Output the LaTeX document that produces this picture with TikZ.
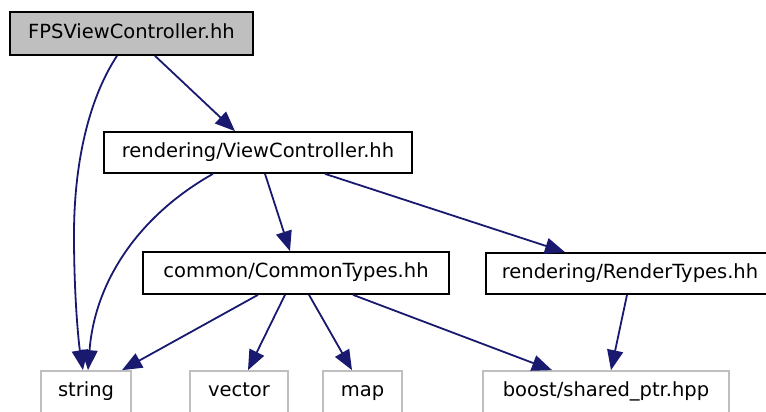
\documentclass[tikz,border=0pt]{standalone}
\usepackage{fontspec}
\setmainfont{DejaVu Sans}
\usetikzlibrary{arrows.meta}
\definecolor{edgeblue}{HTML}{191970}
\definecolor{boxgray}{HTML}{BFBFBF}
\begin{document}
\begin{tikzpicture}[x=1pt,y=-1pt,
  every node/.style={font=\fontsize{19.5}{23}\selectfont, inner sep=0pt, anchor=center, text height=14.6pt, text depth=5pt},
  filebox/.style={draw=black, line width=1.7pt, fill=white},
  mainbox/.style={draw=black, line width=1.7pt, fill=boxgray},
  sysbox/.style={draw=boxgray, line width=1.7pt, fill=white},
  dep/.style={draw=edgeblue, line width=1.8pt, -{Triangle[length=20pt,width=16pt]}}]
\useasboundingbox (0,0) rectangle (766,412);
\begin{scope}
\clip (0,0) rectangle (766,412);
\node[mainbox, minimum width=243pt, minimum height=43pt] (fps) at (131.5,33.5) {FPSViewController.hh};
\node[filebox, minimum width=308pt, minimum height=41pt] (vc) at (258,152.5) {rendering/ViewController.hh};
\node[filebox, minimum width=306pt, minimum height=42pt] (ct) at (296,273) {common/CommonTypes.hh};
\node[filebox, minimum width=288pt, minimum height=41pt] (rt) at (630,273.5) {rendering/RenderTypes.hh};
\node[sysbox, minimum width=90pt, minimum height=42pt] (str) at (86,392) {string};
\node[sysbox, minimum width=98pt, minimum height=42pt] (vec) at (239,392) {vector};
\node[sysbox, minimum width=79pt, minimum height=42pt] (map) at (362.5,392) {map};
\node[sysbox, minimum width=246pt, minimum height=42pt] (bst) at (606,392) {boost/shared\_ptr.hpp};

\draw[dep] ([xshift=-14.5pt]fps.south) .. controls (88,100) and (74,165) .. (74,235) .. controls (74,300) and (79,345) .. ([xshift=-3pt]str.north);
\draw[dep] ([xshift=23.5pt]fps.south) -- ([xshift=-23pt]vc.north);
\draw[dep] ([xshift=-45pt]vc.south) .. controls (140,215) and (95,280) .. ([xshift=2pt]str.north);
\draw[dep] ([xshift=7pt]vc.south) -- ([xshift=-6pt]ct.north);
\draw[dep] ([xshift=67pt]vc.south) -- ([xshift=-65pt]rt.north);
\draw[dep] ([xshift=-38pt]ct.south) -- ([xshift=36pt]str.north);
\draw[dep] ([xshift=-11pt]ct.south) -- ([xshift=9pt]vec.north);
\draw[dep] ([xshift=13pt]ct.south) -- ([xshift=-10.5pt]map.north);
\draw[dep] ([xshift=57pt]ct.south) -- ([xshift=-54pt]bst.north);
\draw[dep] ([xshift=-3pt]rt.south) -- ([xshift=5pt]bst.north);
\end{scope}
\end{tikzpicture}
\end{document}
